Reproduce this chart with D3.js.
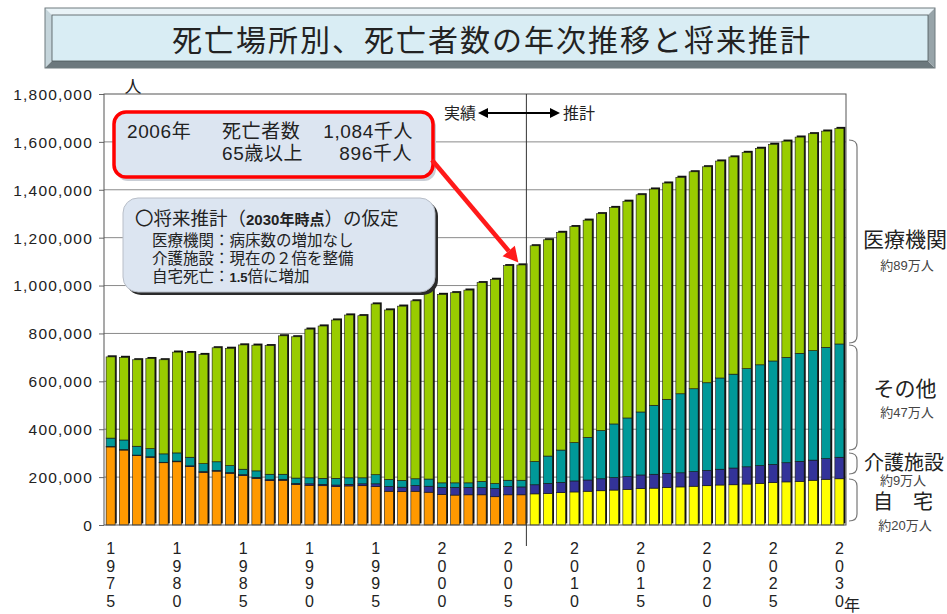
<!DOCTYPE html>
<html>
<head>
<meta charset="utf-8">
<script src="https://cdn.jsdelivr.net/npm/d3@7"></script>
<style>
  body { margin: 0; background: #fff; }
  svg { display: block; font-family: "Liberation Sans", "Noto Sans CJK JP", sans-serif; }
</style>
</head>
<body>
<script>
// years on the x axis (2006 is the last actual year)
var years = [1975,1976,1977,1978,1979,1980,1981,1982,1983,1984,1985,1986,1987,1988,1989,
             1990,1991,1992,1993,1994,1995,1996,1997,1998,1999,2000,2001,2002,2003,2004,2005,2006,
             2007,2008,2009,2010,2011,2012,2013,2014,2015,2016,2017,2018,2019,2020,2021,2022,2023,
             2024,2025,2026,2027,2028,2029,2030];
var lastActual = 2006;

// deaths by place, thousands of persons
var home = [326,313,290,283,260,264,244,220,225,216,206,195,185,187,169,
            166,164,160,163,164,160,141,139,141,137,127,125,126,126,118,126,126,
            130,132,135,138,141,143,146,149,152,154,157,159,162,164,167,168,171,174,177,180,182,187,191,193];
var care = [2,2,2,2,2,3,3,3,3,3,4,4,4,4,5,
            6,6,7,7,8,12,20,19,24,25,30,32,31,30,34,35,33,
            38,42,43,46,47,50,52,53,57,58,59,59,61,64,66,70,72,74,76,80,84,84,86,90];
var other = [35,40,37,34,35,34,36,33,36,29,23,27,23,21,22,
             25,25,28,27,25,38,29,28,28,30,19,19,19,26,21,26,28,
             97,114,135,160,178,201,224,245,263,288,309,330,346,366,381,392,410,421,432,440,451,457,465,473];
var medical = [339,345,361,376,393,421,437,456,476,490,519,525,537,578,590,
               621,636,661,680,677,713,708,728,743,790,787,794,805,830,853,896,899,
               901,903,909,902,907,906,904,905,907,903,903,904,906,902,906,907,903,904,905,903,903,906,903,900];

var yTicks = [0,200,400,600,800,1000,1200,1400,1600,1800];
var xLabelYears = [1975,1980,1985,1990,1995,2000,2005,2010,2015,2020,2025,2030];

var W = 947, H = 614;
var plotL = 104, plotR = 846, plotT = 94, plotB = 525;

var svg = d3.select("body").append("svg").attr("width", W).attr("height", H);

// ---- title box ----
var tx0 = 45, ty0 = 8, tx1 = 935, ty1 = 68, b = 7;
var tg = svg.append("g");
tg.append("polygon").attr("points", [[tx0,ty0],[tx1,ty0],[tx1-b,ty0+b],[tx0+b,ty0+b]].join(" ")).style("fill", "#e9f3f7");
tg.append("polygon").attr("points", [[tx0,ty0],[tx0+b,ty0+b],[tx0+b,ty1-b],[tx0,ty1]].join(" ")).style("fill", "#c5d5db");
tg.append("polygon").attr("points", [[tx0,ty1],[tx0+b,ty1-b],[tx1-b,ty1-b],[tx1,ty1]].join(" ")).style("fill", "#6c787d");
tg.append("polygon").attr("points", [[tx1,ty0],[tx1,ty1],[tx1-b,ty1-b],[tx1-b,ty0+b]].join(" ")).style("fill", "#97a4a9");
tg.append("rect").attr("x", tx0).attr("y", ty0).attr("width", tx1-tx0).attr("height", ty1-ty0)
    .style("fill", "none").style("stroke", "#6f7a7f").style("stroke-width", 1);
tg.append("rect").attr("x", tx0+b).attr("y", ty0+b).attr("width", tx1-tx0-2*b).attr("height", ty1-ty0-2*b)
    .style("fill", "#d9edf4").style("stroke", "#4d5559").style("stroke-width", 0.8);
tg.append("text").attr("x", 492).attr("y", 51).attr("text-anchor", "middle")
    .style("font-size", "30px").style("letter-spacing", "2px").style("fill", "#222")
    .text("死亡場所別、死亡者数の年次推移と将来推計");

// ---- scales ----
var x = d3.scaleBand().domain(years).range([plotL, plotR]).paddingInner(0.32).paddingOuter(0.16);
var y = d3.scaleLinear().domain([0, 1800]).range([plotB, plotT]);

// grid lines
svg.append("g").selectAll("line").data(yTicks.slice(1, -1)).enter().append("line")
    .attr("x1", plotL).attr("x2", plotR)
    .attr("y1", function (d) { return y(d); }).attr("y2", function (d) { return y(d); })
    .style("stroke", "#8a8a8a").style("stroke-width", 1);

// y axis
var yAxis = d3.axisLeft(y).tickValues(yTicks).tickSize(5)
    .tickFormat(function (d) { return d3.format(",")(d * 1000); });
var yg = svg.append("g").attr("transform", "translate(" + plotL + ",0)").call(yAxis);
yg.select(".domain").remove();
yg.selectAll(".tick line").style("stroke", "#666");
yg.selectAll(".tick text").attr("x", -11).attr("dy", "0.35em")
    .style("font-size", "15.5px").style("letter-spacing", "1.2px").style("fill", "#222")
    .style("font-family", "Liberation Sans, sans-serif");

svg.append("text").attr("x", 133).attr("y", 93).attr("text-anchor", "middle")
    .style("font-size", "17px").style("fill", "#222").text("人");

// ---- stacked bars ----
var table = years.map(function (yr, i) {
    return { year: yr, home: home[i], care: care[i], other: other[i], medical: medical[i] };
});
var keys = ["home", "care", "other", "medical"];
var series = d3.stack().keys(keys)(table);

var colors = { care: "#333399", other: "#009999", medical: "#99cc00" };
function segColor(key, yr) {
    if (key === "home") return yr <= lastActual ? "#ff9900" : "#ffff00";
    return colors[key];
}

// dark shadow behind each bar (gives the thick top/right edge)
var totals = series[series.length - 1];
svg.append("g").selectAll("rect").data(totals).enter().append("rect")
    .attr("x", function (d) { return x(d.data.year) + 1.6; })
    .attr("y", function (d) { return y(d[1]) - 1.6; })
    .attr("width", x.bandwidth())
    .attr("height", function (d) { return y(0) - y(d[1]); })
    .style("fill", "#111");

var barG = svg.append("g");
series.forEach(function (s) {
    barG.append("g").selectAll("rect").data(s).enter().append("rect")
        .attr("x", function (d) { return x(d.data.year); })
        .attr("y", function (d) { return y(d[1]); })
        .attr("width", x.bandwidth())
        .attr("height", function (d) { return y(d[0]) - y(d[1]); })
        .style("fill", function (d) { return segColor(s.key, d.data.year); })
        .style("stroke", "#1a1a1a").style("stroke-width", 0.6);
});

// plot frame
svg.append("rect").attr("x", plotL).attr("y", plotT).attr("width", plotR - plotL).attr("height", plotB - plotT)
    .style("fill", "none").style("stroke", "#555").style("stroke-width", 1);

// x labels, digits stacked vertically
var xl = svg.append("g").selectAll("g").data(xLabelYears).enter().append("g")
    .attr("transform", function (d) { return "translate(" + (x(d) + x.bandwidth() / 2) + ",0)"; });
xl.each(function (d) {
    var digits = String(d).split("");
    d3.select(this).selectAll("text").data(digits).enter().append("text")
        .attr("x", 0).attr("y", function (c, k) { return 554 + k * 17.5; })
        .attr("text-anchor", "middle")
        .style("font-size", "16px").style("fill", "#222")
        .text(function (c) { return c; });
});
svg.append("text").attr("x", 852).attr("y", 611).attr("text-anchor", "middle")
    .style("font-size", "16px").style("fill", "#222").text("年");

// actual / projection divider
var divX = x(lastActual) + x.bandwidth() + 0.5;
svg.append("line").attr("x1", divX).attr("x2", divX).attr("y1", plotT).attr("y2", 546)
    .style("stroke", "#333").style("stroke-width", 1);

svg.append("text").attr("x", 476).attr("y", 119).attr("text-anchor", "end")
    .style("font-size", "16px").style("fill", "#222").text("実績");
svg.append("text").attr("x", 563).attr("y", 119)
    .style("font-size", "16px").style("fill", "#222").text("推計");
svg.append("line").attr("x1", 485).attr("x2", 553).attr("y1", 113).attr("y2", 113)
    .style("stroke", "#000").style("stroke-width", 2);
svg.append("polygon").attr("points", "478,113 488,108 488,118").style("fill", "#000");
svg.append("polygon").attr("points", "560,113 550,108 550,118").style("fill", "#000");

// ---- callout 1 (red) ----
svg.append("rect").attr("x", 116).attr("y", 115).attr("width", 320).attr("height", 66).attr("rx", 12)
    .style("fill", "#c9ced6");
svg.append("rect").attr("x", 114).attr("y", 112).attr("width", 319).attr("height", 65).attr("rx", 12)
    .style("fill", "#dce5f1").style("stroke", "#ff0000").style("stroke-width", 3.5);

var c1 = svg.append("g").style("font-size", "19px").style("fill", "#222").style("letter-spacing", "0.6px");
c1.append("text").attr("x", 127).attr("y", 138).text("2006年");
c1.append("text").attr("x", 222).attr("y", 138).text("死亡者数");
c1.append("text").attr("x", 413).attr("y", 138).attr("text-anchor", "end").text("1,084千人");
c1.append("text").attr("x", 222).attr("y", 160).text("65歳以上");
c1.append("text").attr("x", 412).attr("y", 160).attr("text-anchor", "end").text("896千人");

// red arrow to the 2006 bar
var ax0 = 432, ay0 = 160, ax1 = x(2006) + x.bandwidth() / 2 - 3, ay1 = y(1084) - 3;
var ang = Math.atan2(ay1 - ay0, ax1 - ax0);
var hl = 15, hw = 8;
var bx = ax1 - hl * Math.cos(ang), by = ay1 - hl * Math.sin(ang);
svg.append("line").attr("x1", ax0).attr("y1", ay0).attr("x2", bx).attr("y2", by)
    .style("stroke", "#ff1a1a").style("stroke-width", 4.5);
svg.append("polygon")
    .attr("points", [[ax1, ay1],
                     [bx + hw * Math.sin(ang), by - hw * Math.cos(ang)],
                     [bx - hw * Math.sin(ang), by + hw * Math.cos(ang)]].join(" "))
    .style("fill", "#ff1a1a");

// ---- callout 2 ----
svg.append("rect").attr("x", 126).attr("y", 201).attr("width", 312).attr("height", 94).attr("rx", 15)
    .style("fill", "#2b2b2b");
svg.append("rect").attr("x", 123).attr("y", 198).attr("width", 312).attr("height", 94).attr("rx", 15)
    .style("fill", "#dce5f1").style("stroke", "#b8bec8").style("stroke-width", 1);

var c2 = svg.append("g").style("fill", "#222");
var t1 = c2.append("text").attr("x", 135).attr("y", 225).style("font-size", "18.5px");
t1.append("tspan").text("〇将来推計（");
t1.append("tspan").style("font-size", "15px").style("font-weight", "bold").text("2030年時点");
t1.append("tspan").text("）の仮定");
c2.append("text").attr("x", 152).attr("y", 246).style("font-size", "15.5px").text("医療機関：病床数の増加なし");
c2.append("text").attr("x", 152).attr("y", 264).style("font-size", "15.5px").text("介護施設：現在の２倍を整備");
var t4 = c2.append("text").attr("x", 152).attr("y", 282).style("font-size", "15.5px");
t4.append("tspan").text("自宅死亡：");
t4.append("tspan").style("font-size", "13px").style("font-weight", "bold").text("1.5");
t4.append("tspan").text("倍に増加");

// ---- right side braces and labels ----
var braces = [[140, 343], [345, 450], [453, 474], [479, 521]];
svg.append("g").selectAll("path").data(braces).enter().append("path")
    .attr("d", function (d) {
        return "M849," + d[0] + " Q857," + d[0] + " 857," + (d[0] + 7) +
               " L857," + (d[1] - 7) + " Q857," + d[1] + " 849," + d[1];
    })
    .style("fill", "none").style("stroke", "#777").style("stroke-width", 1.2);

var rl = svg.append("g").attr("text-anchor", "middle").style("fill", "#222");
rl.append("text").attr("x", 905).attr("y", 247).style("font-size", "21px").text("医療機関");
rl.append("text").attr("x", 907).attr("y", 270).style("font-size", "13px").style("fill", "#444").text("約89万人");
rl.append("text").attr("x", 905).attr("y", 396).style("font-size", "21px").text("その他");
rl.append("text").attr("x", 907).attr("y", 417).style("font-size", "13px").style("fill", "#444").text("約47万人");
rl.append("text").attr("x", 904).attr("y", 470).style("font-size", "20px").text("介護施設");
rl.append("text").attr("x", 903).attr("y", 485).style("font-size", "13px").style("fill", "#444").text("約9万人");
rl.append("text").attr("x", 903).attr("y", 509).style("font-size", "20px").text("自　宅");
rl.append("text").attr("x", 905).attr("y", 530).style("font-size", "13px").style("fill", "#444").text("約20万人");
</script>
</body>
</html>
